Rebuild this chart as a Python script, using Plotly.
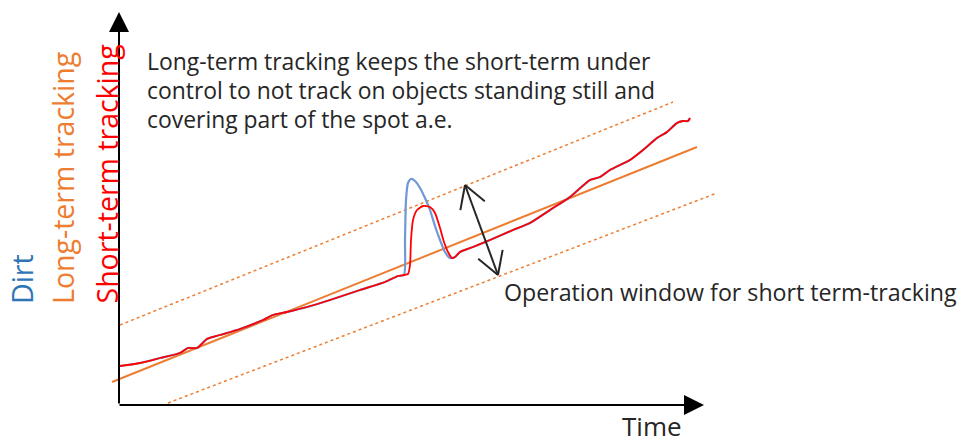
import math
import plotly.graph_objects as go

# Units: time t and value v (arbitrary units)
t_common = [0, 20, 40, 60, 68, 77, 87, 100, 120, 143, 153, 167, 187, 210, 240, 265, 278, 284]
v_common = [39, 42, 47, 52, 57, 57, 66, 70, 76, 85, 90, 93, 98, 105, 115, 123, 129, 130]

t_tail = [335, 340, 353, 370, 393, 410, 430, 450, 470, 480, 490, 510, 523, 537, 547, 557, 563, 568, 570]
v_tail = [148, 153, 158, 165, 175, 182, 195, 208, 225, 228, 235, 245, 255, 267, 273, 282, 284, 284, 287]

t_dirt_spike = [285, 286, 288, 291, 295, 300, 305, 310, 315, 320, 325, 330]
v_dirt_spike = [165, 205, 222, 226, 224, 217, 207, 195, 179, 165, 153, 147]

t_short_spike = [288, 290, 291, 293, 297, 303, 310, 315, 320, 324, 328, 332]
v_short_spike = [131, 140, 165, 185, 195, 199, 198, 192, 177, 163, 153, 147]

long_t = [-8, 577]
long_v = [23, 258]
upper_t = [0, 553]
upper_v = [80, 303]
lower_t = [48, 597]
lower_v = [2, 212]

dirt_t = t_common + t_dirt_spike + t_tail
dirt_v = v_common + v_dirt_spike + v_tail
short_t = t_common + t_short_spike + t_tail
short_v = v_common + v_short_spike + v_tail

ORANGE = "#ED7D31"
RED = "#FF0000"
BLUE_LINE = "#6F98D6"
BLUE_TEXT = "#2E75B6"
DARK = "#262626"
FONT = "Open Sans"

fig = go.Figure()
fig.add_trace(go.Scatter(x=upper_t, y=upper_v, mode="lines",
                         line=dict(color=ORANGE, width=1.5, dash="dot"), hoverinfo="skip"))
fig.add_trace(go.Scatter(x=lower_t, y=lower_v, mode="lines",
                         line=dict(color=ORANGE, width=1.5, dash="dot"), hoverinfo="skip"))
fig.add_trace(go.Scatter(x=long_t, y=long_v, mode="lines",
                         line=dict(color=ORANGE, width=2), hoverinfo="skip"))
fig.add_trace(go.Scatter(x=dirt_t, y=dirt_v, mode="lines",
                         line=dict(color=BLUE_LINE, width=2.2, shape="spline", smoothing=0.6), hoverinfo="skip"))
fig.add_trace(go.Scatter(x=short_t, y=short_v, mode="lines",
                         line=dict(color=RED, width=1.8, shape="spline", smoothing=0.6), hoverinfo="skip"))

annotations = []
# axes with arrows
annotations.append(dict(x=-1, y=393, ax=-1, ay=0, xref="x", yref="y", axref="x", ayref="y",
                        text="", showarrow=True, arrowhead=2, arrowsize=2, arrowwidth=2, arrowcolor="black"))
annotations.append(dict(x=584, y=0, ax=-2, ay=0, xref="x", yref="y", axref="x", ayref="y",
                        text="", showarrow=True, arrowhead=2, arrowsize=2, arrowwidth=2, arrowcolor="black"))

# main texts
main_lines = ["Long-term tracking keeps the short-term under",
              "control to not track on objects standing still and",
              "covering part of the spot a.e."]
for i, ln in enumerate(main_lines):
    annotations.append(dict(x=25, y=344 - 29 * i, xref="x", yref="y", text=ln, showarrow=False,
                            xanchor="left", yanchor="middle",
                            font=dict(family=FONT, size=22.9, color=DARK)))
annotations.append(dict(x=382, y=113, xref="x", yref="y", text="Operation window for short term-tracking",
                        showarrow=False, xanchor="left", yanchor="middle",
                        font=dict(family=FONT, size=23.2, color=DARK)))
annotations.append(dict(x=532, y=-21, xref="x", yref="y", text="Time", showarrow=False,
                        xanchor="center", yanchor="middle",
                        font=dict(family=FONT, size=26, color=DARK)))

# rotated labels
for txt, col, xc in [("Dirt", BLUE_TEXT, -98), ("Long-term tracking", ORANGE, -57),
                     ("Short-term tracking", RED, -14)]:
    annotations.append(dict(x=xc, y=99, xref="x", yref="y", text=txt, showarrow=False,
                            textangle=-90, xanchor="center", yanchor="bottom",
                            font=dict(family=FONT, size=28.5, color=col)))

# double-headed arrow (operation window)
p1 = (345, 220)
p2 = (378, 130)
shapes = [dict(type="line", x0=p1[0], y0=p1[1], x1=p2[0], y1=p2[1], xref="x", yref="y",
               line=dict(color=DARK, width=2))]
dx, dy = p2[0] - p1[0], p2[1] - p1[1]
L = math.hypot(dx, dy)
ux, uy = dx / L, dy / L
px_, py_ = -uy, ux
back, spread = 22, 13
for tip, sgn in [(p1, 1), (p2, -1)]:
    for s in (1, -1):
        ex = tip[0] + sgn * back * ux + s * spread * px_
        ey = tip[1] + sgn * back * uy + s * spread * py_
        shapes.append(dict(type="line", x0=tip[0], y0=tip[1], x1=ex, y1=ey, xref="x", yref="y",
                           line=dict(color=DARK, width=2)))

fig.update_layout(
    width=958, height=447,
    margin=dict(l=0, r=0, t=0, b=0),
    paper_bgcolor="white", plot_bgcolor="white",
    showlegend=False,
    xaxis=dict(range=[-120, 838], visible=False, fixedrange=True),
    yaxis=dict(range=[-42, 405], visible=False, fixedrange=True),
    annotations=annotations,
    shapes=shapes,
)

fig.write_html("out.html", config={"displayModeBar": False},
               post_script="document.body.style.margin='0';document.body.style.overflow='hidden';")
